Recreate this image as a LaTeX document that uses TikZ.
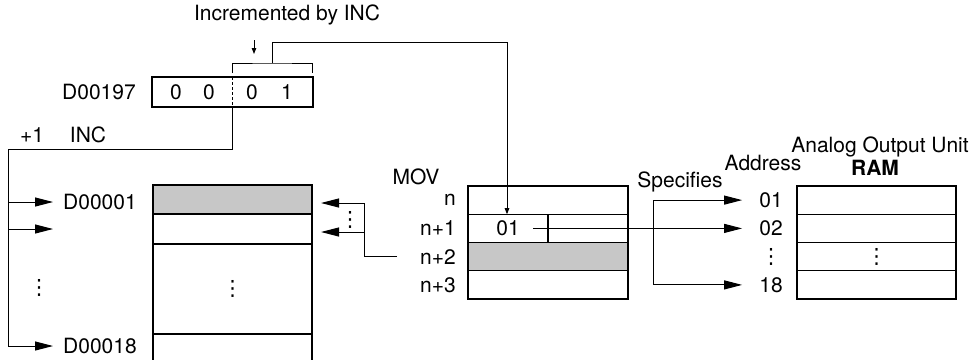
\documentclass[tikz,border=0pt]{standalone}
\usepackage{fontspec}
\setmainfont{TeX Gyre Heros}
\newfontfamily\symfont{DejaVu Sans}
\usetikzlibrary{arrows.meta,positioning,calc}
\newcommand{\vdd}{{\symfont ⋮}}
\tikzset{txt/.style={inner sep=0pt,font=\fontsize{21}{24}\selectfont},
  cell/.style={draw,line width=1.4pt,minimum width=160pt,minimum height=28.25pt,inner sep=0pt,outer sep=0pt},
  shaded/.style={cell,fill=black!22},
  wire/.style={line width=1pt},
  arr/.style={-{Triangle[length=18pt,width=9pt]},wire},
  sarr/.style={-{Triangle[length=6pt,width=4.5pt]},wire}}

\begin{document}
\begin{tikzpicture}[x=1pt,y=-1pt]
\useasboundingbox (0,0) rectangle (972,360);
% register D00197
\node[txt] (inc) at (287,15) {Incremented by INC};
\node[cell,minimum width=161pt,minimum height=30pt] (reg) at (232.5,92) {};
\node[txt] (dreg) at (99,92) {D00197};
\node[txt] (b1) at (176,92) {0}; \node[txt] (b2) at (209,92) {0}; \node[txt] (b3) at (252,92) {0}; \node[txt] (b4) at (287,92) {1};
\draw[densely dashed,line width=1pt] (reg.north) -- (reg.south);
\coordinate (incT) at (254,40); \coordinate (incB) at (254,54);
\draw[sarr] (incT) -- (incB);
\coordinate (brL) at (232,73); \coordinate (brR) at (312,73); \coordinate (brM) at (272,63);
\draw[wire] (brL) |- (brM) -| (brR);
\node[txt] (plus) at (32,135) {+1}; \node[txt] (incl) at (88,135) {INC};
% MOV block
\node[txt] (mov) at (416,177) {MOV};
\node[cell] (m0) at (548,200.1) {};
\node[cell,below=0pt of m0] (m1) {};
\node[shaded,below=0pt of m1] (m2) {};
\node[cell,below=0pt of m2] (m3) {};
\node[txt,left=12pt of m0] (ln0) {n}; \node[txt,left=12pt of m1] (ln1) {n+1};
\node[txt,left=12pt of m2] (ln2) {n+2}; \node[txt,left=12pt of m3] (ln3) {n+3};
\node[txt] (val) at (508,228.4) {01};
\draw[line width=1.4pt] (m1.north) -- (m1.south);
\coordinate (tap) at (507,42);
\draw[sarr] (brM) |- (tap) -- (tap |- m1.north);
% analog output unit
\node[txt] (aou) at (880,147) {Analog Output Unit};
\node[txt,font=\fontsize{21}{24}\selectfont\bfseries] (ram) at (875,168) {RAM};
\node[txt] (addr) at (763,163) {Address}; \node[txt] (spec) at (680,182) {Specifies};
\node[cell,minimum width=159pt] (ram0) at (876.5,200.1) {};
\node[cell,minimum width=159pt,below=0pt of ram0] (ram1) {};
\node[cell,minimum width=159pt,below=0pt of ram1] (ram2) {};
\node[cell,minimum width=159pt,below=0pt of ram2] (ram3) {};
\node[txt] (ramdots) at (ram2) {\vdd};
\node[txt] (a1) at (771,200.1) {01}; \node[txt] (a2) at (771,228.4) {02};
\node[txt] (a3) at (771,256.6) {\vdd}; \node[txt] (a4) at (771,284.9) {18};
\coordinate (src) at (533,228.4);
\draw[arr] (src) -- ([xshift=-17pt]a2.west);
\coordinate (spT) at (653,200.1); \coordinate (spB) at (653,284.9);
\draw[arr] (spB) -- (spT) -- ([xshift=-17pt]a1.west);
\draw[arr] (spB) -- ([xshift=-17pt]a4.west);
% data area D00001-D00018
\node[shaded,minimum width=159pt,minimum height=29pt] (r1) at (232.5,199.5) {};
\node[cell,minimum width=159pt,minimum height=30pt,below=0pt of r1] (r2) {};
\node[cell,minimum width=159pt,minimum height=90pt,below=0pt of r2] (r3) {};
\node[cell,draw=none,minimum width=159pt,minimum height=26pt,below=0pt of r3] (r4) {};
\draw[line width=1.4pt] (r4.north west) -- (r4.south west) (r4.north east) -- (r4.south east);
\node[txt] (rdots) at (r3) {\vdd};
\node[txt] (dA) at (100,202) {D00001}; \node[txt] (dB) at (100,346) {D00018};
\coordinate (bus) at (8,149); \coordinate (busE) at (8,346);
\draw[wire] (reg.south) |- (bus) -- (busE);
\draw[arr] (bus |- dA) -- ([xshift=-10pt]dA.west);
\draw[arr] (bus |- r2) -- ([xshift=-10pt]dA.west |- r2);
\draw[arr] (busE) -- ([xshift=-10pt]dB.west);
\node[txt] (bdots) at (39,288) {\vdd};
% n+2 back to the data area
\coordinate (fbS) at (397,256.6); \coordinate (fb) at (364,256.6);
\coordinate (t1) at (321,203); \coordinate (t2) at (321,232);
\draw[arr] (fbS) -- (fb) |- (t1);
\draw[arr] (fb |- t2) -- (t2);
\node[txt] (fdots) at (350,220) {\vdd};
\end{tikzpicture}
\end{document}
